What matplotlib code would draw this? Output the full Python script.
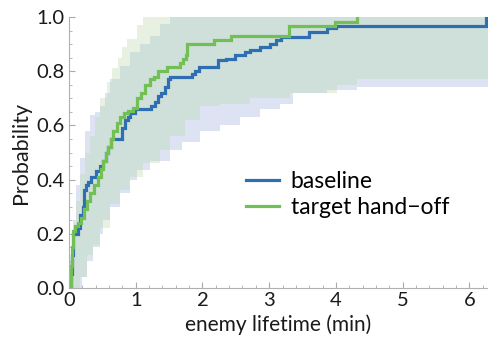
import numpy as np
import matplotlib
matplotlib.use("Agg")
import matplotlib.pyplot as plt
from matplotlib.ticker import MultipleLocator, FormatStrFormatter

plt.rcParams['font.family'] = ['Lato', 'DejaVu Sans']

# ---- data ----
baseline_x = [0.0, 0.03, 0.045, 0.06, 0.13, 0.165, 0.21, 0.22, 0.25, 0.285, 0.33, 0.40, 0.46,
              0.51, 0.55, 0.58, 0.63, 0.79, 0.84, 0.88, 0.91, 0.99, 1.23, 1.29, 1.33, 1.38,
              1.44, 1.48, 1.51, 1.84, 1.89, 1.95, 2.23, 2.35, 2.49, 2.64, 2.71, 2.86, 3.01,
              3.10, 3.18, 3.60, 3.87, 4.00, 6.25]
baseline_y = [0.0, 0.05, 0.12, 0.20, 0.22, 0.27, 0.30, 0.36, 0.38, 0.39, 0.41, 0.43, 0.45,
              0.47, 0.50, 0.52, 0.55, 0.59, 0.62, 0.63, 0.645, 0.66, 0.67, 0.685, 0.71, 0.72,
              0.74, 0.77, 0.78, 0.79, 0.80, 0.815, 0.84, 0.845, 0.86, 0.87, 0.88, 0.89, 0.90,
              0.915, 0.925, 0.945, 0.96, 0.967, 1.0]

handoff_x = [0.0, 0.03, 0.045, 0.06, 0.09, 0.13, 0.18, 0.22, 0.27, 0.31, 0.37, 0.43, 0.48,
             0.51, 0.55, 0.58, 0.63, 0.66, 0.72, 0.76, 0.82, 0.88, 0.96, 1.02, 1.08, 1.14,
             1.21, 1.27, 1.33, 1.47, 1.66, 1.71, 1.75, 1.77, 2.17, 2.43, 3.30, 3.99, 4.32]
handoff_y = [0.0, 0.08, 0.15, 0.21, 0.23, 0.24, 0.26, 0.29, 0.32, 0.35, 0.38, 0.41, 0.44,
             0.47, 0.50, 0.52, 0.55, 0.58, 0.61, 0.63, 0.645, 0.655, 0.665, 0.70, 0.72, 0.75,
             0.77, 0.78, 0.80, 0.815, 0.83, 0.845, 0.86, 0.90, 0.915, 0.93, 0.965, 0.98, 1.0]

# confidence bands (step functions)
base_up_x = [0.0, 0.015, 0.06, 0.105, 0.165, 0.24, 0.315, 0.39, 0.465, 0.54, 0.615, 0.765,
             0.915, 1.065, 1.21, 1.36, 1.51]
base_up_y = [0.05, 0.10, 0.25, 0.38, 0.48, 0.58, 0.64, 0.65, 0.67, 0.72, 0.77, 0.82,
             0.87, 0.90, 0.93, 0.975, 1.0]
base_lo_x = [0.0, 0.165, 0.195, 0.27, 0.36, 0.465, 0.51, 0.615, 0.765, 0.915, 1.02, 1.21,
             1.51, 1.70, 1.96, 2.26, 2.56, 2.86, 3.16, 3.36, 3.87, 4.32]
base_lo_y = [0.0, 0.0, 0.04, 0.10, 0.15, 0.20, 0.25, 0.30, 0.35, 0.40, 0.435, 0.47,
             0.51, 0.54, 0.58, 0.60, 0.63, 0.66, 0.68, 0.72, 0.73, 0.74]

hand_up_x = [0.0, 0.015, 0.06, 0.105, 0.165, 0.24, 0.315, 0.39, 0.465, 0.57, 0.645, 0.735,
             0.795, 0.87, 1.02, 1.11]
hand_up_y = [0.05, 0.12, 0.22, 0.32, 0.42, 0.50, 0.56, 0.63, 0.70, 0.76, 0.81, 0.85,
             0.89, 0.92, 0.97, 1.0]
hand_lo_x = [0.0, 0.135, 0.165, 0.27, 0.36, 0.465, 0.615, 0.765, 0.915, 1.11, 1.36, 1.51,
             1.74, 1.96, 2.26, 2.71, 3.31, 4.02, 4.32]
hand_lo_y = [0.0, 0.0, 0.04, 0.12, 0.16, 0.22, 0.31, 0.36, 0.41, 0.46, 0.51, 0.56,
             0.62, 0.67, 0.68, 0.70, 0.72, 0.75, 0.77]

labels = ["baseline", "target hand\u2212off"]
xmax = 6.28

# ---- helpers ----
def step_eval(xs, ys, grid):
    xs = np.asarray(xs); ys = np.asarray(ys)
    idx = np.searchsorted(xs, grid, side='right') - 1
    idx = np.clip(idx, 0, len(ys) - 1)
    return ys[idx]

grid = np.unique(np.concatenate([base_up_x, base_lo_x, hand_up_x, hand_lo_x, [xmax]]))
bu = step_eval(base_up_x, base_up_y, grid)
bl = step_eval(base_lo_x, base_lo_y, grid)
hu = step_eval(hand_up_x, hand_up_y, grid)
hl = step_eval(hand_lo_x, hand_lo_y, grid)
ou = np.minimum(bu, hu)
ol = np.maximum(bl, hl)

fig = plt.figure(figsize=(4.88, 3.55), dpi=100)
ax = fig.add_axes([0.1414, 0.1887, 0.8586, 0.7634])

c_blue = "#2f6fb1"
c_green = "#72bf55"
ax.fill_between(grid, bl, bu, step='post', color="#dde3f2", lw=0)
ax.fill_between(grid, hl, hu, step='post', color="#e8f1e1", lw=0)
ax.fill_between(grid, ol, ou, where=ou > ol, step='post', color="#cfe0da", lw=0,
                interpolate=False)

bx = list(baseline_x) + [xmax]
by = list(baseline_y) + [baseline_y[-1]]
ax.step(bx, by, where='post', color=c_blue, lw=2.3, label=labels[0], solid_joinstyle='miter')
ax.step(handoff_x, handoff_y, where='post', color=c_green, lw=2.3, label=labels[1],
        solid_joinstyle='miter')

ax.set_xlim(0, xmax)
ax.set_ylim(0, 1.0)
ax.xaxis.set_major_locator(MultipleLocator(1))
ax.xaxis.set_minor_locator(MultipleLocator(0.2))
ax.yaxis.set_major_locator(MultipleLocator(0.2))
ax.yaxis.set_minor_locator(MultipleLocator(0.05))
ax.yaxis.set_major_formatter(FormatStrFormatter('%.1f'))
ax.tick_params(which='both', direction='in', color='#aaaaaa', labelcolor='#1a1a1a',
               labelsize=14.5)
ax.tick_params(which='major', length=4, width=0.8, pad=3)
ax.tick_params(which='minor', length=2.5, width=0.6)
for s in ['top', 'right']:
    ax.spines[s].set_visible(False)
for s in ['left', 'bottom']:
    ax.spines[s].set_color('#b0b0b0')
    ax.spines[s].set_linewidth(0.8)

ax.set_xlabel("enemy lifetime (min)", fontsize=15, color='#1a1a1a', labelpad=4)
ax.set_ylabel("Probability", fontsize=15.5, color='#1a1a1a', labelpad=4)

ax.legend(loc='center left', bbox_to_anchor=(0.395, 0.345), frameon=False, fontsize=16.5,
          handlelength=1.45, handletextpad=0.5, labelspacing=0.2, borderpad=0)

fig.savefig("out.png", dpi=100)
